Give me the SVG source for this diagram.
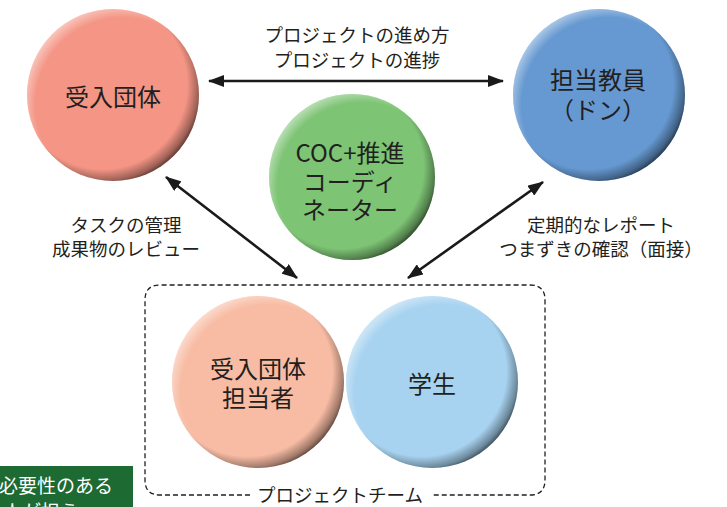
<svg xmlns="http://www.w3.org/2000/svg" width="727" height="507" viewBox="0 0 727 507">
<style>
  .t { font-family: "Noto Sans CJK JP", "Noto Sans", sans-serif; fill: #231f20; text-anchor: middle; }
  .lbl { font-size: 18.5px; }
  .big { font-size: 24px; }
  .conn { stroke: #1a1a1a; stroke-width: 2.6; fill: none; marker-start: url(#ah); marker-end: url(#ah); }
  .shade { fill: url(#shade); }
  .hi { fill: url(#hi); }
</style>
<defs>
  <radialGradient id="shade" cx="0.44" cy="0.44" r="0.6">
    <stop offset="0" stop-color="#000" stop-opacity="0"/>
    <stop offset="0.82" stop-color="#000" stop-opacity="0"/>
    <stop offset="0.93" stop-color="#000" stop-opacity="0.35"/>
    <stop offset="1" stop-color="#000" stop-opacity="0.75"/>
  </radialGradient>
  <radialGradient id="hi" cx="0.56" cy="0.56" r="0.6">
    <stop offset="0" stop-color="#fff" stop-opacity="0"/>
    <stop offset="0.85" stop-color="#fff" stop-opacity="0"/>
    <stop offset="1" stop-color="#fff" stop-opacity="0.55"/>
  </radialGradient>
  <marker id="ah" viewBox="0 0 16 12" refX="15" refY="6" markerWidth="16" markerHeight="12" markerUnits="userSpaceOnUse" orient="auto-start-reverse">
    <path d="M0,0 L16,6 L0,12 Z" fill="#1a1a1a"/>
  </marker>
</defs>

<g id="connectors">
  <line class="conn" x1="209" y1="81" x2="503" y2="81"/>
  <line class="conn" x1="166" y1="177" x2="297" y2="278"/>
  <line class="conn" x1="543" y1="182" x2="408" y2="278"/>
</g>

<g id="team">
  <path d="M250,495 H160 Q145,495 145,480 V300 Q145,285 160,285 H530 Q545,285 545,300 V480 Q545,495 530,495 H432" fill="none" stroke="#231f20" stroke-width="1.3" stroke-dasharray="5,3"/>
  <text class="t lbl" x="340" y="502">プロジェクトチーム</text>
</g>

<g id="ukeire">
  <circle cx="113" cy="95" r="86" fill="#F49585"/>
  <circle class="hi" cx="113" cy="95" r="86"/>
  <circle class="shade" cx="113" cy="95" r="86"/>
  <text class="t big" x="113" y="106">受入団体</text>
</g>

<g id="kyoin">
  <circle cx="599" cy="95" r="86" fill="#6699D1"/>
  <circle class="hi" cx="599" cy="95" r="86"/>
  <circle class="shade" cx="599" cy="95" r="86"/>
  <text class="t big" x="598" y="89">担当教員</text>
  <text class="t big" x="598" y="119">（ドン）</text>
</g>

<g id="coc">
  <circle cx="352" cy="177" r="83" fill="#7EC475"/>
  <circle class="hi" cx="352" cy="177" r="83"/>
  <circle class="shade" cx="352" cy="177" r="83"/>
  <text class="t big" x="350" y="162">COC+推進</text>
  <text class="t big" x="350" y="191">コーディ</text>
  <text class="t big" x="350" y="219">ネーター</text>
</g>

<g id="tantosha">
  <circle cx="258" cy="382" r="86" fill="#F8BCA4"/>
  <circle class="hi" cx="258" cy="382" r="86"/>
  <circle class="shade" cx="258" cy="382" r="86"/>
  <text class="t big" x="258" y="378">受入団体</text>
  <text class="t big" x="258" y="407">担当者</text>
</g>

<g id="gakusei">
  <circle cx="432" cy="382" r="86" fill="#A8D3F0"/>
  <circle class="hi" cx="432" cy="382" r="86"/>
  <circle class="shade" cx="432" cy="382" r="86"/>
  <text class="t big" x="432" y="393">学生</text>
</g>

<g id="labels">
  <text class="t lbl" x="357" y="42">プロジェクトの進め方</text>
  <text class="t lbl" x="357" y="67">プロジェクトの進捗</text>
  <text class="t lbl" x="126" y="232">タスクの管理</text>
  <text class="t lbl" x="126" y="256">成果物のレビュー</text>
  <text class="t lbl" x="601" y="232">定期的なレポート</text>
  <text class="t lbl" x="601" y="256">つまずきの確認（面接）</text>
</g>

<g id="note">
  <rect x="0" y="466" width="133" height="41" fill="#1D6A32"/>
  <text style="font-family:'Noto Sans CJK JP','Noto Sans',sans-serif;font-size:19px;fill:#fff" x="-1" y="493">必要性のある</text>
  <text style="font-family:'Noto Sans CJK JP','Noto Sans',sans-serif;font-size:19px;fill:#fff" x="3" y="519">人が担う</text>
</g>
</svg>
